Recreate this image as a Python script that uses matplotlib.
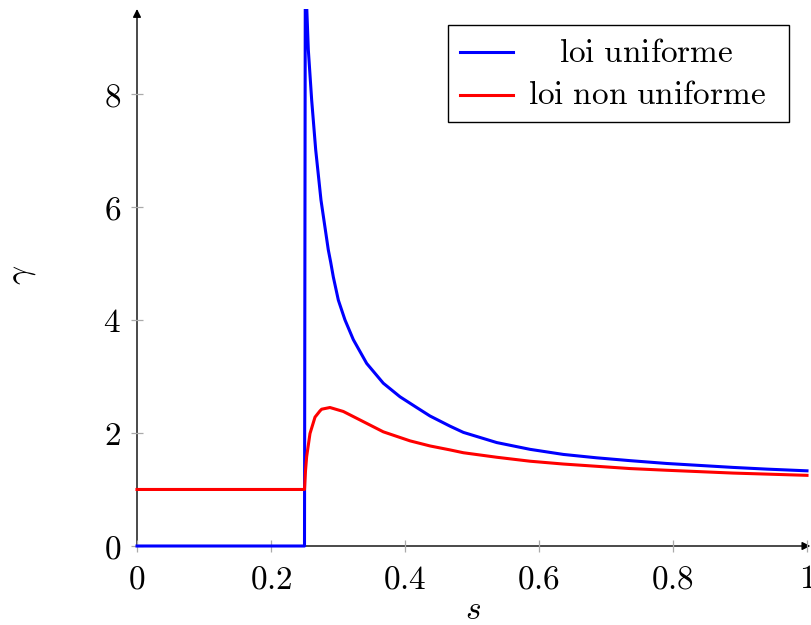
import matplotlib
matplotlib.use("Agg")
import matplotlib.pyplot as plt
from matplotlib.patches import Rectangle
from matplotlib.lines import Line2D

plt.rcParams['mathtext.fontset'] = 'cm'
plt.rcParams['font.family'] = ['DejaVu Serif']

# Data
s_uniform = [0, 0.25, 0.2512, 0.2557, 0.2607, 0.2667, 0.2746, 0.2855, 0.2891,
             0.2930, 0.3005, 0.3104, 0.3229, 0.3428, 0.3676, 0.3925, 0.4174,
             0.4373, 0.4672, 0.4871, 0.5369, 0.5866, 0.6363, 0.6861, 0.7358,
             0.7906, 0.890, 0.94, 1.0]
g_uniform = [0, 0, 10.2, 8.78, 7.89, 7.01, 6.12, 5.24, 5.02,
             4.76, 4.35, 4.0, 3.65, 3.23, 2.88, 2.64, 2.45,
             2.30, 2.12, 2.01, 1.83, 1.71, 1.62, 1.56, 1.51,
             1.46, 1.39, 1.36, 1.33]

s_nonuniform = [0, 0.25, 0.2515, 0.2532, 0.2582, 0.2657, 0.2731, 0.2756, 0.288,
                0.3079, 0.3328, 0.3676, 0.4075, 0.4373, 0.4672, 0.4871, 0.5369,
                0.5866, 0.6363, 0.6861, 0.7358, 0.7906, 0.890, 1.0]
g_nonuniform = [1, 1, 1.33, 1.58, 1.99, 2.28, 2.39, 2.42, 2.45,
                2.38, 2.23, 2.02, 1.86, 1.77, 1.70, 1.65, 1.57,
                1.50, 1.45, 1.41, 1.37, 1.34, 1.29, 1.25]

xticks = [0, 0.2, 0.4, 0.6, 0.8, 1]
xticklabels = ['0', '0.2', '0.4', '0.6', '0.8', '1']
yticks = [0, 2, 4, 6, 8]
yticklabels = ['0', '2', '4', '6', '8']
labels = ['loi uniforme', 'loi non uniforme']

W, H = 811, 625
fig = plt.figure(figsize=(W / 100, H / 100), dpi=100)
left, right, bottom_px, top_px = 137, 807, 546, 9
ax = fig.add_axes([left / W, (H - bottom_px) / H, (right - left) / W, (bottom_px - top_px) / H])

clip_rect = Rectangle((-0.01, -0.02), 1.02, 1.02, transform=ax.transAxes)
for xs, ys, col in [(s_uniform, g_uniform, (0, 0, 1)), (s_nonuniform, g_nonuniform, (1, 0, 0))]:
    ln, = ax.plot(xs, ys, color=col, lw=2.2, solid_joinstyle='round', zorder=3)
    ln.set_clip_path(clip_rect)

ax.set_xlim(0, 1)
ax.set_ylim(0, 9.5)

for sp in ax.spines.values():
    sp.set_visible(False)

ax.set_xticks(xticks)
ax.set_xticklabels(['$' + t + '$' for t in xticklabels], fontsize=24)
ax.set_yticks(yticks)
ax.set_yticklabels(['$' + t + '$' for t in yticklabels], fontsize=24)
ax.tick_params(axis='both', direction='inout', length=9, width=0.9, color='#aaaaaa')
ax.tick_params(axis='x', pad=8)
ax.tick_params(axis='y', pad=7)

# axis lines with arrows
ax.annotate('', xy=(1.005, 0), xytext=(0, 0), xycoords='axes fraction',
            arrowprops=dict(arrowstyle='-|>', color='black', lw=1.0, mutation_scale=12,
                            shrinkA=0, shrinkB=0), zorder=1)
ax.annotate('', xy=(0, 1.0), xytext=(0, 0), xycoords='axes fraction',
            arrowprops=dict(arrowstyle='-|>', color='black', lw=1.0, mutation_scale=12,
                            shrinkA=0, shrinkB=0), zorder=1)

ax.text((473 - left) / (right - left), -(610 - bottom_px) / (bottom_px - top_px), '$s$',
        transform=ax.transAxes, ha='center', va='center', fontsize=24)
ax.text((22 - left) / (right - left), (bottom_px - 275) / (bottom_px - top_px), r'$\gamma$',
        transform=ax.transAxes, ha='center', va='center', fontsize=24, rotation=90)

# legend (pgfplots style, centred text)
def fx(px):
    return (px - left) / (right - left)

def fy(py):
    return (bottom_px - py) / (bottom_px - top_px)

ax.add_patch(Rectangle((fx(448), fy(122)), fx(789) - fx(448), fy(25) - fy(122),
                       transform=ax.transAxes, fill=True, facecolor='white',
                       edgecolor='black', lw=1.0, zorder=5, clip_on=False))
for i, (lab, col) in enumerate(zip(labels, [(0, 0, 1), (1, 0, 0)])):
    ly = [52.3, 95][i]
    by = [61.7, 104.3][i]
    ax.add_line(Line2D([fx(460), fx(513)], [fy(ly), fy(ly)], transform=ax.transAxes,
                       color=col, lw=2.2, zorder=6, clip_on=False))
    ax.text(fx(646.7), fy(by), r'$\mathrm{' + lab.replace(' ', r'\ ') + '}$',
            transform=ax.transAxes, ha='center', va='baseline', fontsize=24, zorder=6)

fig.savefig('out.png', dpi=100)
